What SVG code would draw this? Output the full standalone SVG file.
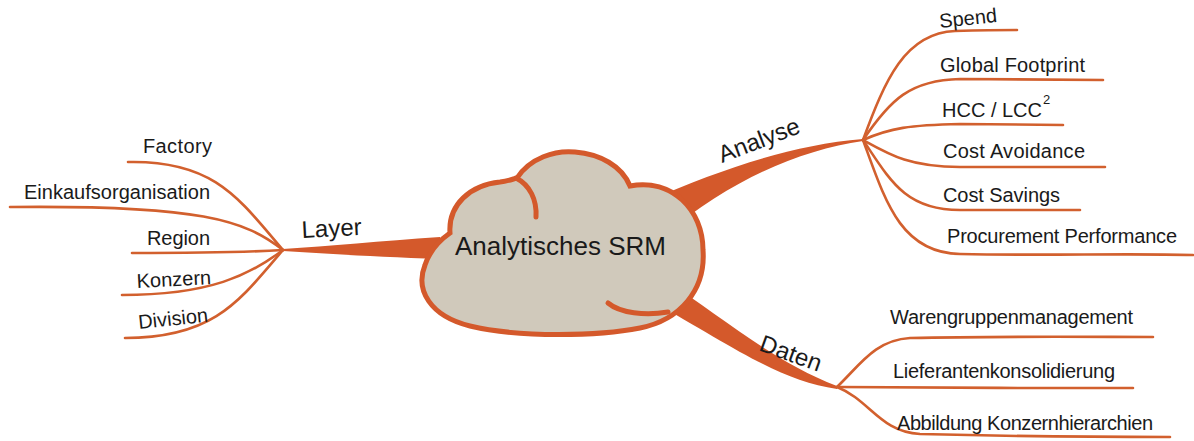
<svg xmlns="http://www.w3.org/2000/svg" width="1194" height="441" viewBox="0 0 1194 441">
<style>
.leaf{fill:none;stroke:#d2602e;stroke-width:2.6;stroke-linecap:round}
.br{fill:#d4592b}
.t{font-family:"Liberation Sans",Arial,sans-serif;font-size:20px;fill:#1a1a1a}
.bt{font-family:"Liberation Sans",Arial,sans-serif;font-size:24px;fill:#1a1a1a}
</style>
<rect width="1194" height="441" fill="#ffffff"/>
<g id="connectors">
  <path class="br" d="M283,249 C330,246 380,241 440,237 L440,259 C380,257 330,254 283,251 Z"/>
  <path class="br" d="M650,200 C720,170 790,145 863,139 L863,141 C800,150 730,180 665,235 Z"/>
  <path class="br" d="M665,280 C720,315 770,360 837,386 L837,389 C780,381 735,348 650,300 Z"/>
  <path class="leaf" d="M128,162 C215,160 240,200 283,250"/>
  <path class="leaf" d="M10,207 C200,205 245,220 283,250"/>
  <path class="leaf" d="M132,253 C200,253 250,252 283,250"/>
  <path class="leaf" d="M122,295 C210,295 250,275 283,250"/>
  <path class="leaf" d="M125,338 C215,338 240,300 283,250"/>
  <path class="leaf" d="M863,140 C885,80 905,33 955,31 C990,30 1005,30 1017,30"/>
  <path class="leaf" d="M863,140 C890,100 910,80 960,79 L1103,80"/>
  <path class="leaf" d="M863,140 C890,128 910,125 960,124 L1063,125"/>
  <path class="leaf" d="M863,140 C890,155 910,167 960,167 L1105,167"/>
  <path class="leaf" d="M863,140 C890,180 905,210 960,210 L1080,210"/>
  <path class="leaf" d="M863,140 C885,200 900,253 960,254 C1050,256 1120,253 1193,255"/>
  <path class="leaf" d="M837,387 C860,365 875,340 910,338 C1000,336 1100,337 1153,337"/>
  <path class="leaf" d="M837,387 C900,388 1050,388 1133,388"/>
  <path class="leaf" d="M837,387 C870,400 880,432 920,434 C1000,436 1100,437 1170,437"/>
</g>
<g id="center">
  <path d="M450,233 C448,205 470,185 500,182 C508,181 513,179 517,178 C530,158 555,150 575,152 C600,154 622,166 630,186 C672,178 703,210 703,250 C706,290 680,320 640,328 C600,336 520,338 470,326 C430,316 415,290 425,265 C430,250 440,240 450,233 Z" fill="#d0c9bb" stroke="#d4592b" stroke-width="5"/>
  <path d="M516,178 C530,185 537,200 536,217" fill="none" stroke="#d4592b" stroke-width="5" stroke-linecap="round"/>
  <path d="M608,303 C620,313 645,316 668,312" fill="none" stroke="#d4592b" stroke-width="5" stroke-linecap="round"/>
  <text x="455" y="255" font-family="Liberation Sans, Arial, sans-serif" font-size="26" fill="#1a1a1a" textLength="211">Analytisches SRM</text>
</g>
<g id="layer"><text class="bt" x="302" y="238" transform="rotate(-3 302 238)">Layer</text></g>
<g id="analyse"><text class="bt" x="722" y="163" transform="rotate(-21 722 163)">Analyse</text></g>
<g id="daten"><text class="bt" x="758" y="350" transform="rotate(20 758 350)">Daten</text></g>
<g id="factory"><text class="t" x="143" y="153" textLength="69">Factory</text></g>
<g id="einkauf"><text class="t" x="24" y="199" textLength="186">Einkaufsorganisation</text></g>
<g id="region"><text class="t" x="147" y="245" textLength="63">Region</text></g>
<g id="konzern"><text class="t" x="137" y="288" transform="rotate(-3 137 288)">Konzern</text></g>
<g id="division"><text class="t" x="139" y="329" transform="rotate(-6 139 329)">Division</text></g>
<g id="spend"><text class="t" x="940" y="28" transform="rotate(-6 940 28)">Spend</text></g>
<g id="global"><text class="t" x="940" y="72" textLength="145">Global Footprint</text></g>
<g id="hcc"><text class="t" x="942" y="117" textLength="100">HCC / LCC</text><text x="1043" y="104" font-family="Liberation Sans, Arial, sans-serif" font-size="13" fill="#1a1a1a">2</text></g>
<g id="avoid"><text class="t" x="943" y="158" textLength="142">Cost Avoidance</text></g>
<g id="savings"><text class="t" x="943" y="202" textLength="117">Cost Savings</text></g>
<g id="procurement"><text class="t" x="947" y="243" textLength="230">Procurement Performance</text></g>
<g id="waren"><text class="t" x="890" y="324" textLength="243">Warengruppenmanagement</text></g>
<g id="liefer"><text class="t" x="893" y="378" textLength="222">Lieferantenkonsolidierung</text></g>
<g id="abbildung"><text class="t" x="897" y="430" textLength="256">Abbildung Konzernhierarchien</text></g>
</svg>
